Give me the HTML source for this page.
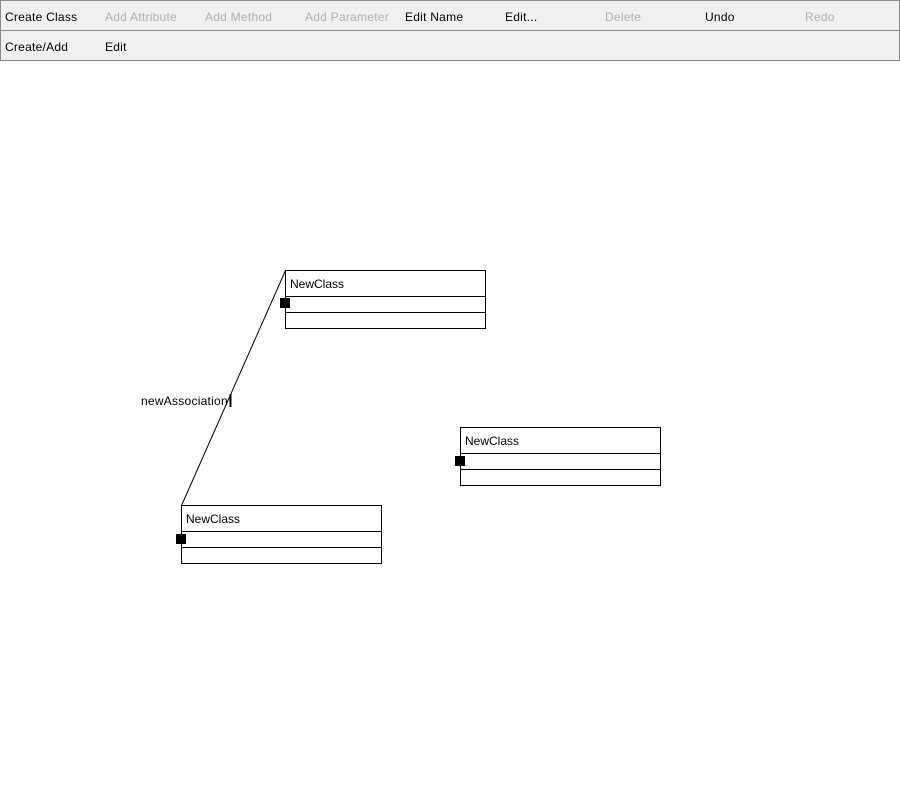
<!DOCTYPE html>
<html><head><style>
body{margin:0;width:900px;height:800px;background:#fff;position:relative;overflow:hidden;font-family:"Liberation Sans",sans-serif;font-size:12px;}
.bar{position:absolute;left:0;width:898px;height:29px;background:#f0f0f0;border:1px solid #8a8a8a;}
.t{position:absolute;line-height:14px;white-space:nowrap;letter-spacing:0.25px;}
.g{color:#b0b0b0}
.box{position:absolute;width:199px;height:57px;border:1px solid #000;background:#fff;}
.box .h{position:absolute;left:0;top:25px;width:199px;border-top:1px solid #000;}
.box .h2{position:absolute;left:0;top:41px;width:199px;border-top:1px solid #000;}
.box .n{position:absolute;left:4px;top:6px;}
.sq{position:absolute;width:10px;height:10px;background:#000;}
</style></head><body>
<div class="bar" style="top:0"></div>
<div class="bar" style="top:30px"></div>
<div class="t" style="left:5px;top:10px">Create Class</div>
<div class="t g" style="left:105px;top:10px">Add Attribute</div>
<div class="t g" style="left:205px;top:10px">Add Method</div>
<div class="t g" style="left:305px;top:10px">Add Parameter</div>
<div class="t" style="left:405px;top:10px">Edit Name</div>
<div class="t" style="left:505px;top:10px">Edit...</div>
<div class="t g" style="left:605px;top:10px">Delete</div>
<div class="t" style="left:705px;top:10px">Undo</div>
<div class="t g" style="left:805px;top:10px">Redo</div>
<div class="t" style="left:5px;top:40px">Create/Add</div>
<div class="t" style="left:105px;top:40px">Edit</div>
<svg style="position:absolute;left:0;top:0" width="900" height="800">
<line x1="285.5" y1="270.5" x2="181.5" y2="505.5" stroke="#000" stroke-width="1"/>
<line x1="230.5" y1="394" x2="230.5" y2="407" stroke="#000" stroke-width="2"/>
</svg>
<div class="t" style="left:141px;top:394px">newAssociation</div>
<div class="box" style="left:285px;top:270px"><div class="n">NewClass</div><div class="h"></div><div class="h2"></div></div>
<div class="sq" style="left:280px;top:298px"></div>
<div class="box" style="left:460px;top:427px"><div class="n">NewClass</div><div class="h"></div><div class="h2"></div></div>
<div class="sq" style="left:455px;top:456px"></div>
<div class="box" style="left:181px;top:505px"><div class="n">NewClass</div><div class="h"></div><div class="h2"></div></div>
<div class="sq" style="left:176px;top:534px"></div>
</body></html>
